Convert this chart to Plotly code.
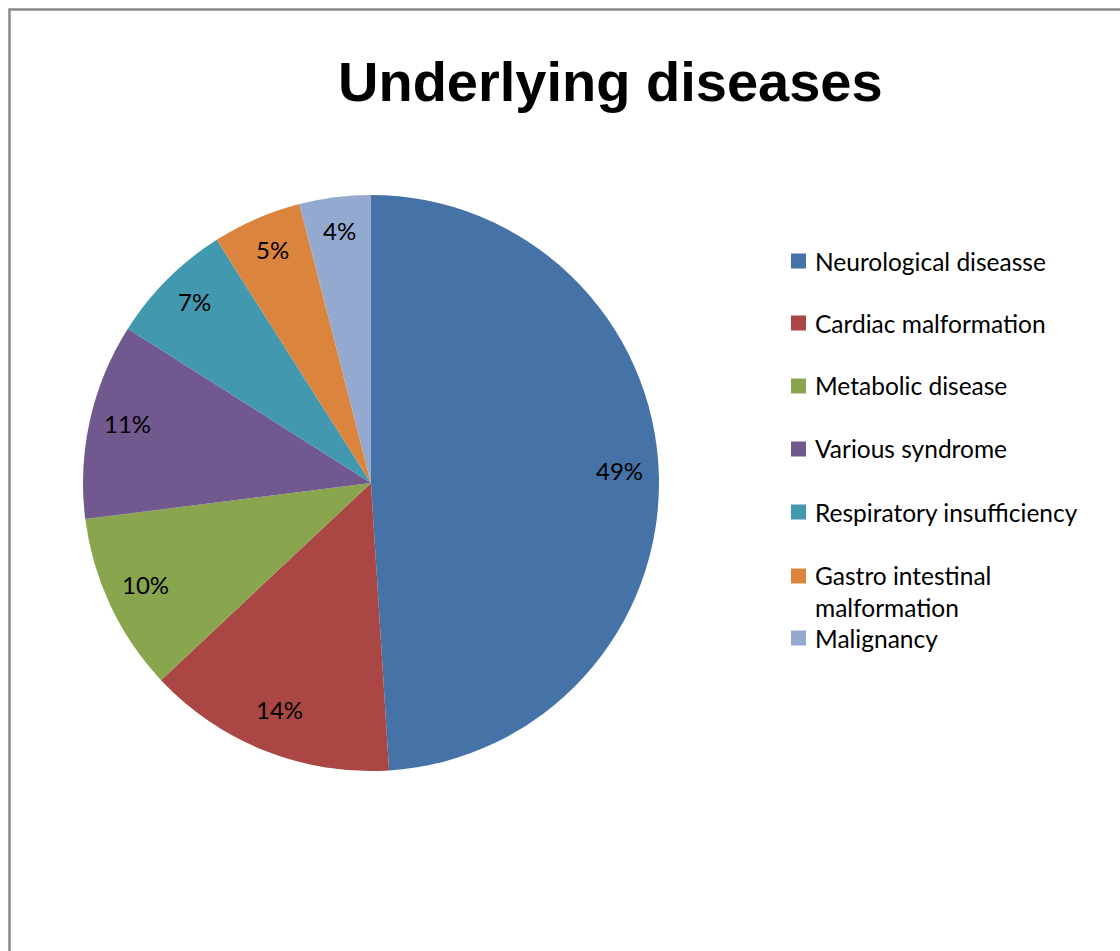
import math
import plotly.graph_objects as go

W, H = 1120, 951

labels = ["Neurological diseasse", "Cardiac malformation", "Metabolic disease",
          "Various syndrome", "Respiratory insufficiency",
          "Gastro intestinal<br>malformation", "Malignancy"]
values = [49, 14, 10, 11, 7, 5, 4]
colors = ["#4572A7", "#AA4643", "#89A54E", "#71588F", "#4198AF", "#DB843D", "#93A9CF"]
title = "Underlying diseases"

FONT = "Lato, 'Open Sans', sans-serif"

# pie geometry in pixels
cx, cy, R = 371, 483, 288

fig = go.Figure(go.Pie(
    labels=labels, values=values, sort=False, direction="clockwise", rotation=0,
    marker=dict(colors=colors, line=dict(width=0)),
    textinfo="none", showlegend=False, hoverinfo="label+percent",
    domain=dict(x=[(cx - R) / W, (cx + R) / W], y=[1 - (cy + R) / H, 1 - (cy - R) / H]),
))

shapes = [dict(type="rect", xref="paper", yref="paper",
               x0=9.5 / W, x1=1.05, y0=-0.05, y1=1 - 9.5 / H,
               line=dict(color="#888888", width=2.5), fillcolor="rgba(0,0,0,0)")]
annotations = [dict(text="<b>" + title + "</b>", x=610 / W, y=1 - 81 / H, xref="paper", yref="paper",
                    xanchor="center", yanchor="middle", showarrow=False,
                    font=dict(family="Liberation Sans, Arial, sans-serif", size=56, color="black"))]

# percentage labels placed along each slice's mid-angle
total = sum(values)
cum = 0
for v in values:
    mid = (cum + v / 2) / total * 2 * math.pi
    cum += v
    r = 0.865 * R
    px = cx + r * math.sin(mid)
    py = cy - r * math.cos(mid) - 5
    annotations.append(dict(text=f"{round(100 * v / total)}%", x=px / W, y=1 - py / H,
                            xref="paper", yref="paper", xanchor="center", yanchor="middle",
                            showarrow=False, font=dict(family=FONT, size=24, color="black")))

# custom legend
leg_y = [261, 323, 386, 449, 512, 591, 638]
for lab, col, y in zip(labels, colors, leg_y):
    sy = y if "<br>" not in lab else 576
    shapes.append(dict(type="rect", xref="paper", yref="paper",
                       x0=791 / W, x1=806 / W, y0=1 - (sy + 7.5) / H, y1=1 - (sy - 7.5) / H,
                       line=dict(width=0), fillcolor=col))
    annotations.append(dict(text=lab, x=813 / W, y=1 - y / H, xref="paper", yref="paper",
                            xanchor="left", yanchor="middle", align="left", showarrow=False,
                            font=dict(family=FONT, size=24.5, color="black")))

fig.update_layout(width=W, height=H, margin=dict(l=0, r=0, t=0, b=0),
                  paper_bgcolor="white", plot_bgcolor="white",
                  shapes=shapes, annotations=annotations)

fig.write_html("out.html")
